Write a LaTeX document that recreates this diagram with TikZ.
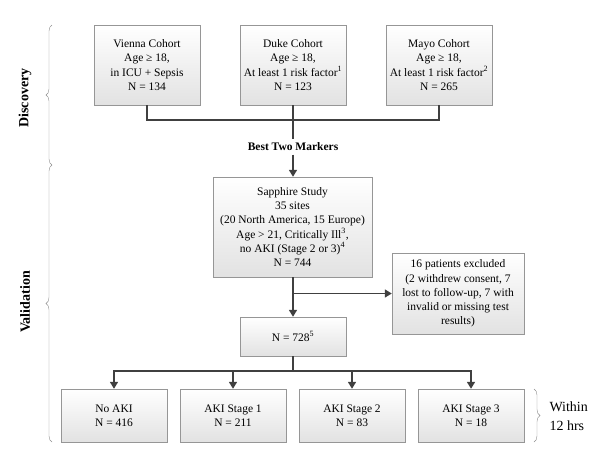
\documentclass[tikz,border=0pt]{standalone}
\usepackage{fontspec}
\setmainfont{Liberation Serif}
\usetikzlibrary{arrows.meta, positioning, shadows, decorations.pathreplacing}
\definecolor{color_line}{RGB}{64,64,64}
\definecolor{color_edge}{RGB}{150,150,150}
\definecolor{color_fill}{RGB}{226,226,226}

\begin{document}
\begin{tikzpicture}[x=1pt, y=-1pt,
box/.style={draw=color_edge, top color=white, bottom color=color_fill,
  drop shadow={shadow xshift=1.2pt, shadow yshift=-1.2pt, fill=black!30, opacity=.6},
  align=center, inner sep=0pt, font=\fontsize{11.5}{14.2}\selectfont},
cohort/.style={box, minimum width=106pt, minimum height=80pt},
outcome/.style={box, minimum width=106pt, minimum height=53pt},
link/.style={draw=color_line, line width=1.6pt},
flow/.style={link, -{Triangle[length=7pt,width=8pt]}},
phase/.style={draw=black!45, decorate, decoration={brace, amplitude=6pt}},
phase label/.style={rotate=90, font=\fontsize{14}{16}\selectfont\bfseries}]
\useasboundingbox (0,0) rectangle (600,459);
% DISCOVERY
\node[cohort] (vienna) at (147,65) {Vienna Cohort\\Age ≥ 18,\\in ICU + Sepsis\\N = 134};
\node[cohort] (duke) at (293,65) {Duke Cohort\\Age ≥ 18,\\At least 1 risk factor\textsuperscript{1}\\N = 123};
\node[cohort] (mayo) at (439,65) {Mayo Cohort\\Age ≥ 18,\\At least 1 risk factor\textsuperscript{2}\\N = 265};
\node[font=\fontsize{11.5}{14}\selectfont\bfseries] (markers) at (293,147) {Best Two Markers};
\draw[link] (vienna.south) -- ++(0,15) -| (mayo.south);
\draw[link] (duke.south) -- (markers.north);
% VALIDATION
\node[box, minimum width=159pt, minimum height=100pt] (sapphire) at (292.5,227)
  {Sapphire Study\\35 sites\\(20 North America, 15 Europe)\\Age > 21, Critically Ill\textsuperscript{3},\\no AKI (Stage 2 or 3)\textsuperscript{4}\\N = 744};
\node[box, minimum width=132pt, minimum height=81pt] (excluded) at (458,293.5)
  {16 patients excluded\\(2 withdrew consent, 7\\lost to follow-up, 7 with\\invalid or missing test\\results)};
\node[box, minimum width=106pt, minimum height=39pt] (enrolled) at (293,336.5) {N = 728\textsuperscript{5}};
\draw[flow] (markers.south) -- (markers.south |- sapphire.north);
\draw[flow] (sapphire.south -| enrolled.north) -- (enrolled.north);
\draw[flow] (enrolled.north |- excluded.west) -- (excluded.west);
% OUTCOMES
\node[outcome] (noaki) at (114,415.5) {No AKI\\N = 416};
\node[outcome] (stage1) at (233,415.5) {AKI Stage 1\\N = 211};
\node[outcome] (stage2) at (352,415.5) {AKI Stage 2\\N = 83};
\node[outcome] (stage3) at (471,415.5) {AKI Stage 3\\N = 18};
\draw[link] (enrolled.south) -- ++(0,15) coordinate (split);
\foreach \n in {noaki,stage1,stage2,stage3}
  \draw[flow] (split) -| (\n.north);
% PHASES
\draw[phase] (52,165) -- (52,25);
\draw[phase] (52,442) -- (52,165);
\node[phase label] (discovery) at (25,98) {Discovery};
\node[phase label] (validation) at (25,302) {Validation};
\draw[phase] (534,389) -- (534,442);
\node[anchor=west, align=left, font=\fontsize{14}{19}\selectfont] (within) at (546,416) {Within\\12 hrs};
\end{tikzpicture}
\end{document}
